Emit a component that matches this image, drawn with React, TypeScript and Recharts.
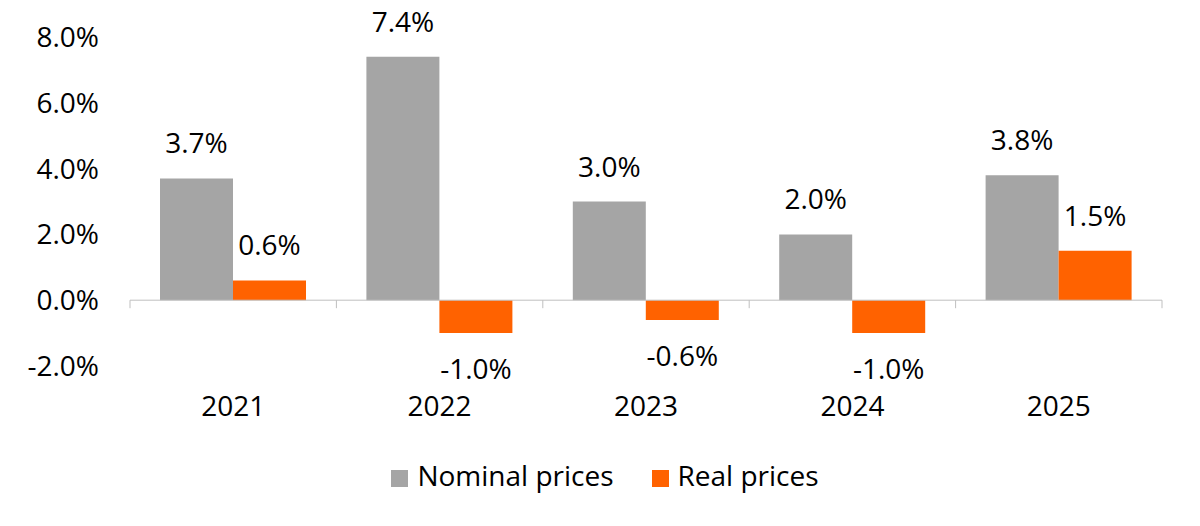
import React from 'react';
import { BarChart, Bar, XAxis, YAxis, Legend, ReferenceLine, LabelList } from 'recharts';

const years = ['2021', '2022', '2023', '2024', '2025'];
const nominalPrices = [3.7, 7.4, 3.0, 2.0, 3.8];
const realPrices = [0.6, -1.0, -0.6, -1.0, 1.5];
const yTicks = [-2, 0, 2, 4, 6, 8];

const FONT = '"Open Sans", sans-serif';
const CHART_W = 1200;
const CHART_H = 526;
const MARGIN = { top: 37, right: 38, left: 0, bottom: 62 };
const Y_AXIS_W = 130;
const X_AXIS_H = 60;

const data = years.map((year, i) => ({
  year,
  nominal: nominalPrices[i],
  real: realPrices[i],
}));

const pct = (v: number) => `${v.toFixed(1)}%`;

// value labels: above for positive bars, below for negative ones
const BarLabel = (props: any) => {
  const { x, y, width, height, value } = props;
  const top = Math.min(y, y + height);
  const bottom = Math.max(y, y + height);
  const ty = value >= 0 ? top - 25 : bottom + 46;
  return (
    <text x={x + width / 2} y={ty} textAnchor="middle" fill="#000" fontSize={28} fontFamily={FONT}>
      {pct(value)}
    </text>
  );
};

// category label at the bottom plus a small tick mark on the zero line at the band's left edge
const XTick = (props: any) => {
  const { x, y, payload, index } = props;
  const plotW = CHART_W - MARGIN.left - MARGIN.right - Y_AXIS_W;
  const band = plotW / years.length;
  const plotH = CHART_H - MARGIN.top - MARGIN.bottom - X_AXIS_H - 38;
  const zeroFromBottom = (plotH * 2) / 10;
  const axisY = y - 30;
  const zeroY = axisY - zeroFromBottom;
  const left = x - band / 2;
  return (
    <g>
      <line x1={left} x2={left} y1={zeroY} y2={zeroY + 8} stroke="#bfbfbf" />
      {index === years.length - 1 && (
        <line x1={left + band} x2={left + band} y1={zeroY} y2={zeroY + 8} stroke="#bfbfbf" />
      )}
      <text x={x} y={y} dy="0.71em" textAnchor="middle" fill="#000" fontSize={28} fontFamily={FONT}>
        {payload.value}
      </text>
    </g>
  );
};

const App = () => {
  return (
    <div style={{ position: 'absolute', left: 0, top: 0, width: CHART_W, height: CHART_H, background: '#fff' }}>
      <BarChart width={CHART_W} height={CHART_H} data={data} margin={MARGIN} barGap={0} barCategoryGap={30}>
        <XAxis
          dataKey="year"
          height={X_AXIS_H}
          axisLine={false}
          tickLine={false}
          tickSize={0}
          tickMargin={30}
          tick={<XTick />}
          interval={0}
        />
        <YAxis
          width={Y_AXIS_W}
          domain={[-2, 8]}
          ticks={yTicks}
          tickFormatter={pct}
          axisLine={false}
          tickLine={false}
          tickSize={0}
          tickMargin={31}
          tick={{ fill: '#000', fontSize: 28, fontFamily: FONT }}
        />
        <ReferenceLine y={0} stroke="#bfbfbf" />
        <Legend
          verticalAlign="bottom"
          iconType="square"
          iconSize={17}
          wrapperStyle={{ fontFamily: FONT, fontSize: 28, top: 456, left: 10, width: 1200 }}
          formatter={(value, _entry, index) => (
            <span style={{ color: '#000', marginLeft: 5, marginRight: index === 0 ? 28 : 0 }}>{value}</span>
          )}
        />
        <Bar dataKey="nominal" name="Nominal prices" fill="#a5a5a5" isAnimationActive={false}>
          <LabelList dataKey="nominal" content={<BarLabel />} />
        </Bar>
        <Bar dataKey="real" name="Real prices" fill="#ff6200" isAnimationActive={false}>
          <LabelList dataKey="real" content={<BarLabel />} />
        </Bar>
      </BarChart>
    </div>
  );
};

export default App;
